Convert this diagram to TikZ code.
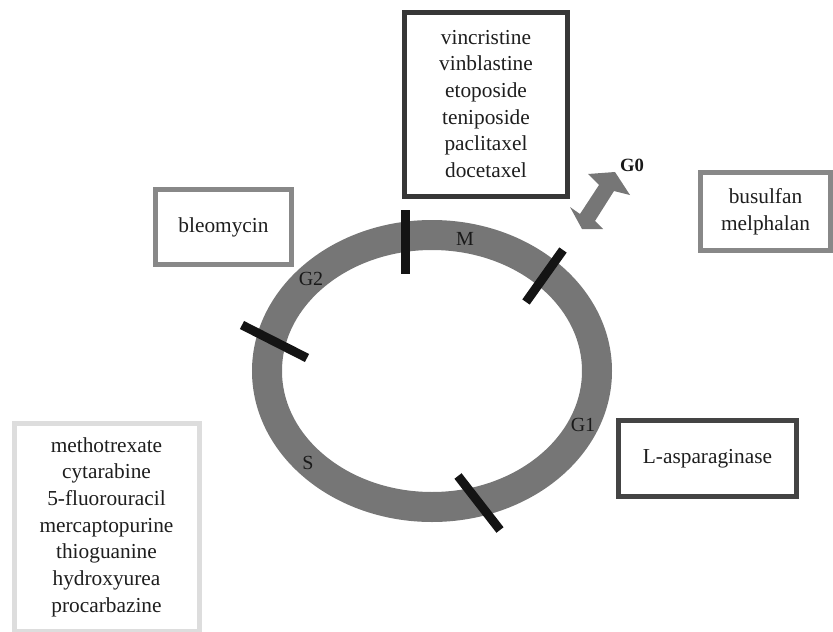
\documentclass[tikz,border=0pt]{standalone}
\usepackage{fontspec}
\setmainfont{Liberation Serif}
\definecolor{ringc}{RGB}{118,118,118}
\definecolor{tickc}{RGB}{20,20,20}
\definecolor{darkb}{RGB}{55,55,55}
\definecolor{midb}{RGB}{68,68,68}
\definecolor{grayb}{RGB}{136,136,136}
\definecolor{lightb}{RGB}{221,221,221}
\definecolor{txt}{RGB}{30,30,30}
\tikzset{
  drugbox/.style={draw, line width=3.75pt, fill=white, align=center, text=txt,
    font=\fontsize{16}{20}\selectfont, inner sep=0pt},
  phase/.style={font=\fontsize{15}{17}\selectfont, text=black!90},
  tickbar/.style={draw=tickc, line width=6.75pt},
}
\begin{document}
\begin{tikzpicture}[x=0.75pt,y=-0.75pt]
\useasboundingbox (0,0) rectangle (833,632);
% cell cycle ring
\draw[ringc, line width=22.5pt] (432,371) ellipse [x radius=165, y radius=136];
% checkpoint bars
\coordinate (t1a) at (405,210); \coordinate (t1b) at (405,274);
\coordinate (t2a) at (563,250); \coordinate (t2b) at (526,302);
\coordinate (t3a) at (242,325); \coordinate (t3b) at (307,358);
\coordinate (t4a) at (458,476); \coordinate (t4b) at (500,530);
\draw[tickbar] (t1a) -- (t1b);
\draw[tickbar] (t2a) -- (t2b);
\draw[tickbar] (t3a) -- (t3b);
\draw[tickbar] (t4a) -- (t4b);
% phase labels
\node[phase] (M) at (465,239) {M};
\node[phase] (G2) at (311,279) {G2};
\node[phase] (S) at (308,463) {S};
\node[phase] (G1) at (583,425) {G1};
\node[font=\bfseries\fontsize{14}{16}\selectfont, text=black!90] (G0) at (632,165) {G0};
% G0 double arrow
\fill[ringc] (582,229) -- (570,207) -- (580,214) -- (599,185) -- (588,174) -- (615,172)
  -- (630,195) -- (614,191) -- (595,221) -- (603,229) -- cycle;
% drug boxes
\node[drugbox, draw=darkb, minimum width=122.25pt, minimum height=138pt] (mphase) at (486,104)
  {vincristine\\vinblastine\\etoposide\\teniposide\\paclitaxel\\docetaxel};
\node[drugbox, draw=grayb, minimum width=102pt, minimum height=56.25pt] (g2box) at (223.5,227)
  {bleomycin};
\node[drugbox, draw=grayb, minimum width=97.5pt, minimum height=58.5pt] (nonspec) at (765.5,211.5)
  {busulfan\\melphalan};
\node[drugbox, draw=midb, minimum width=133.5pt, minimum height=57pt] (g1box) at (707.5,458.5)
  {L-asparaginase};
\node[drugbox, draw=lightb, minimum width=138.75pt, minimum height=156pt] (sbox) at (106.5,527)
  {methotrexate\\cytarabine\\5-fluorouracil\\mercaptopurine\\thioguanine\\hydroxyurea\\procarbazine};
\end{tikzpicture}
\end{document}
